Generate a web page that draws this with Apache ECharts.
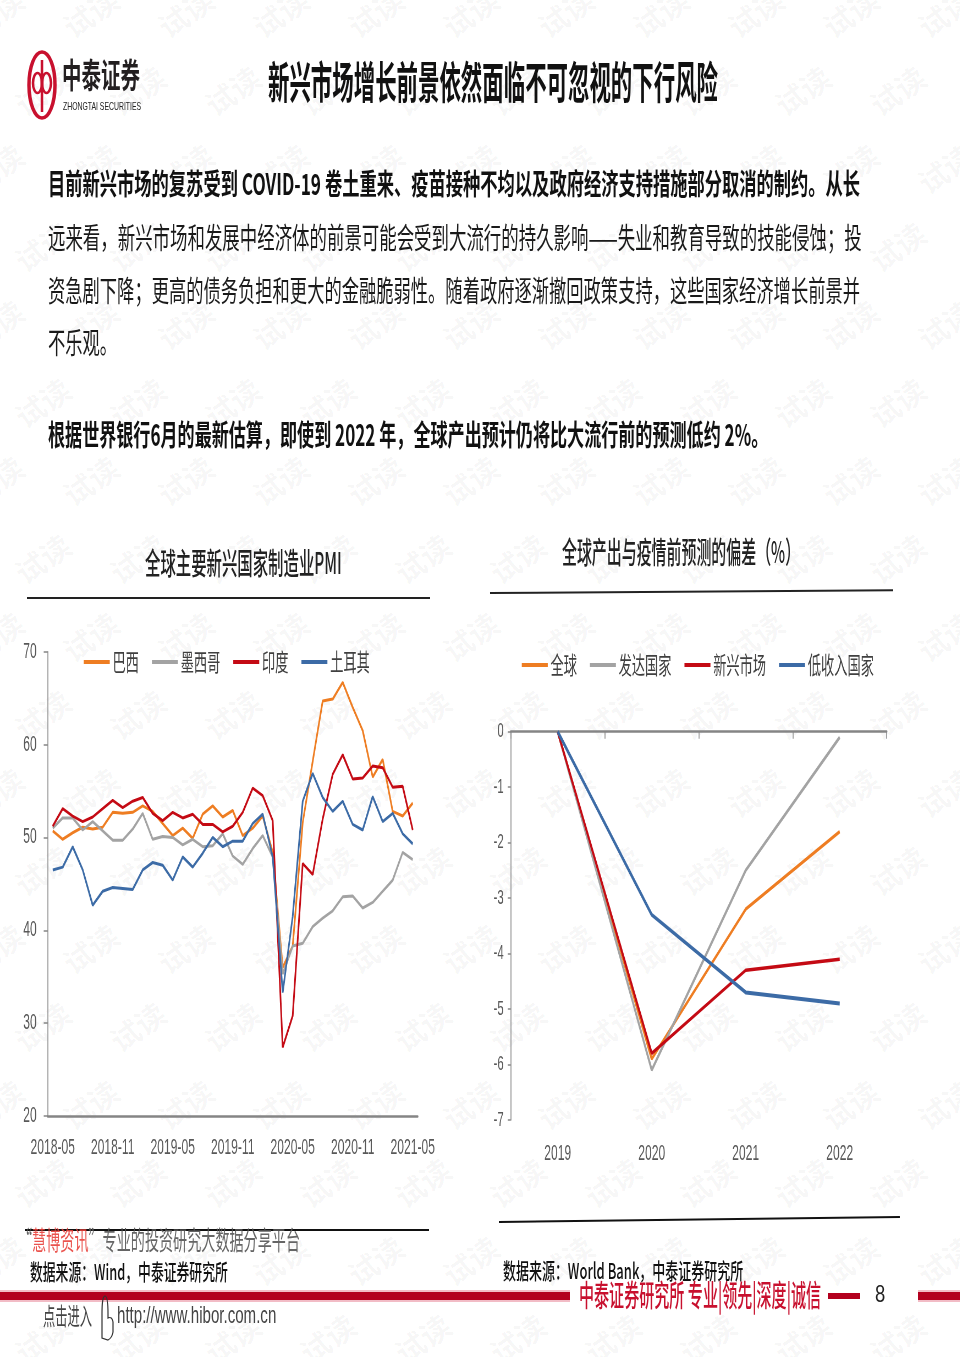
<!DOCTYPE html>
<html>
<head>
<meta charset="utf-8">
<script src="https://cdn.jsdelivr.net/npm/echarts@6/dist/echarts.min.js"></script>
<style>
  html, body { margin: 0; padding: 0; background: #fff; }
  #page { position: relative; width: 960px; height: 1357px; overflow: hidden; background: #fff; }
  .t { position: absolute; white-space: nowrap; line-height: 1; transform-origin: 0 50%;
       font-family: 'Noto Sans CJK SC', sans-serif; z-index: 5; }
  .ln { position: absolute; z-index: 4; }
  .wm { position: absolute; white-space: nowrap; font-family: 'Noto Sans CJK SC', sans-serif;
        font-weight: 700; font-size: 30px; color: rgba(0,0,0,0.04); transform: rotate(-35deg); z-index: 1; }
  #chart { position: absolute; left: 0; top: 0; transform-origin: 0 0; z-index: 3; }
</style>
</head>
<body>
<div id="page">
  <svg class="ln" style="left:25px;top:48px" width="36" height="76" viewBox="0 0 36 76">
    <ellipse cx="17" cy="37" rx="13" ry="33" fill="none" stroke="#C8102E" stroke-width="3.5"/>
    <line x1="17" y1="12" x2="17" y2="64" stroke="#C8102E" stroke-width="2.5"/>
    <ellipse cx="12.5" cy="35" rx="4.5" ry="10" fill="none" stroke="#C8102E" stroke-width="2.5"/>
    <ellipse cx="21.5" cy="35" rx="4.5" ry="10" fill="none" stroke="#C8102E" stroke-width="2.5"/>
  </svg>
  <div id="chart"></div>
</div>
<script>
// ---------------- data ----------------
const months = ["2018-05","2018-06","2018-07","2018-08","2018-09","2018-10","2018-11","2018-12",
  "2019-01","2019-02","2019-03","2019-04","2019-05","2019-06","2019-07","2019-08","2019-09","2019-10","2019-11","2019-12",
  "2020-01","2020-02","2020-03","2020-04","2020-05","2020-06","2020-07","2020-08","2020-09","2020-10","2020-11","2020-12",
  "2021-01","2021-02","2021-03","2021-04","2021-05"];
const brazil = [50.7,49.8,50.5,51.1,50.9,51.1,52.7,52.6,
  52.7,53.4,52.8,51.5,50.2,51.0,49.9,52.5,53.4,52.2,52.9,50.2,
  51.0,52.3,48.4,36.0,38.3,51.6,58.2,64.7,64.9,66.7,64.0,61.5,
  56.5,58.4,52.8,52.3,53.7];
const mexico = [51.0,52.1,52.1,50.8,51.7,50.7,49.7,49.7,
  50.9,52.6,49.8,50.1,50.0,49.2,49.8,49.0,49.1,50.4,48.0,47.1,
  48.8,50.2,47.9,35.3,38.3,38.6,40.4,41.3,42.1,43.6,43.7,42.4,
  43.0,44.2,45.4,48.4,47.6];
const india = [51.2,53.1,52.3,51.7,52.2,53.1,54.0,53.2,
  53.9,54.3,52.6,51.8,52.7,52.1,52.5,51.4,51.4,50.6,51.2,52.7,
  55.3,54.5,51.8,27.4,30.8,47.2,46.0,52.0,56.8,58.9,56.3,56.4,
  57.7,57.5,55.4,55.5,50.8];
const turkey = [46.5,46.8,49.0,46.5,42.7,44.2,44.6,44.5,
  44.4,46.5,47.3,47.0,45.4,47.9,46.8,48.3,50.0,49.0,49.6,49.6,
  51.5,52.5,47.9,33.3,41.5,53.9,56.9,54.3,52.8,53.9,51.4,50.8,
  54.4,51.7,52.6,50.4,49.3];
const pmiNames = ["巴西","墨西哥","印度","土耳其"];

const years = ["2019","2020","2021","2022"];
const globalDev = [0,-5.9,-3.2,-1.8];
const advancedDev = [0,-6.1,-2.5,-0.1];
const emergingDev = [0,-5.8,-4.3,-4.1];
const lowIncomeDev = [0,-3.3,-4.7,-4.9];
const devNames = ["全球","发达国家","新兴市场","低收入国家"];

// ---------------- page text ----------------
const page = document.getElementById('page');
function txt(html, left, cy, fs, width, style) {
  const el = document.createElement('div');
  el.className = 't';
  el.innerHTML = html;
  el.style.left = left + 'px';
  el.style.fontSize = fs + 'px';
  el.style.top = (cy - fs * 0.556) + 'px';
  Object.assign(el.style, style || {});
  page.appendChild(el);
  el._w = width;
  return el;
}
function line(left, top, w, h, color, rot) {
  const el = document.createElement('div');
  el.className = 'ln';
  Object.assign(el.style, {left: left+'px', top: top+'px', width: w+'px', height: h+'px', background: color});
  if (rot) { el.style.transform = 'rotate(' + rot + 'deg)'; el.style.transformOrigin = '0 50%'; }
  page.appendChild(el);
}
// watermark lattice
for (let r = 0; r < 19; r++) {
  for (let c = -1; c < 11; c++) {
    const w = document.createElement('div');
    w.className = 'wm';
    w.textContent = '试读';
    w.style.left = (c * 95 + (r % 2) * 47 + 60) + 'px';
    w.style.top = (r * 78 - 10) + 'px';
    page.appendChild(w);
  }
}

const texts = [];
texts.push(txt('中泰证券', 62, 76, 34, 78, {fontWeight: 700, color: '#231F20'}));
texts.push(txt('ZHONGTAI SECURITIES', 63, 107, 11, 78, {fontFamily: "'Liberation Sans', sans-serif", color: '#222'}));
texts.push(txt('新兴市场增长前景依然面临不可忽视的下行风险', 268, 82, 44, 450, {fontWeight: 700, color: '#111'}));
texts.push(txt('目前新兴市场的复苏受到 COVID-19 卷土重来、疫苗接种不均以及政府经济支持措施部分取消的制约。从长', 48, 184, 29, 812, {fontWeight: 700, color: '#111'}));
texts.push(txt('远来看，新兴市场和发展中经济体的前景可能会受到大流行的持久影响——失业和教育导致的技能侵蚀；投', 48, 238, 29, 814, {fontWeight: 400, color: '#1a1a1a'}));
const l3 = txt('资急剧下降；更高的债务负担和更大的金融脆弱性。随着政府逐渐撤回政策支持，这些国家经济增长前景并', 48, 291, 29, 812, {fontWeight: 400, color: '#1a1a1a'});
texts.push(l3);
const l4 = txt('不乐观。', 48, 343, 29, null, {fontWeight: 400, color: '#1a1a1a'});
texts.push(txt('根据世界银行6月的最新估算，即使到 2022 年，全球产出预计仍将比大流行前的预测低约 2%。', 48, 435, 29, 720, {fontWeight: 700, color: '#111'}));
texts.push(txt('全球主要新兴国家制造业PMI', 145, 563, 30, 197, {fontWeight: 500, color: '#222'}));
texts.push(txt('全球产出与疫情前预测的偏差（%）', 562, 552, 30, 238, {fontWeight: 500, color: '#222'}));
texts.push(txt('数据来源：Wind，中泰证券研究所', 30, 1271, 22, 198, {fontWeight: 500, color: '#111'}));
texts.push(txt('数据来源：World Bank，中泰证券研究所', 503, 1270, 22, 240, {fontWeight: 500, color: '#111'}));
texts.push(txt('<span style="color:#555">“</span><span style="color:#E8413B">慧博资讯</span><span style="color:#555">”专业的投资研究大数据分享平台</span>', 18, 1240, 26, 282, {fontWeight: 400, opacity: 0.9, zIndex: 6}));
texts.push(txt('点击进入', 43, 1316, 24, 49, {color: '#444', zIndex: 6}));
texts.push(txt('http://www.hibor.com.cn', 117, 1316, 24, 159, {fontFamily: "'Liberation Sans Narrow','Liberation Sans',sans-serif", color: '#444', zIndex: 6}));
texts.push(txt('中泰证券研究所 专业|领先|深度|诚信', 579, 1295, 30, 242, {fontWeight: 500, color: '#C8102E'}));
texts.push(txt('8', 875, 1295, 24, 10, {fontFamily: "'Liberation Sans', sans-serif", color: '#222'}));

// lines
line(27, 597, 403, 2, '#222');
line(490, 592, 403, 2, '#222', -0.4);
line(25, 1229, 404, 2, '#111');
line(499, 1221, 401, 2, '#111', -0.7);
line(0, 1290, 570, 2, '#F2BCC6');
line(0, 1292, 570, 8, '#B3001E');
line(0, 1300, 570, 2, '#F2BCC6');
line(828, 1293, 32, 6, '#B3001E');
line(918, 1290, 42, 2, '#F2BCC6');
line(918, 1292, 42, 8, '#B3001E');
line(918, 1300, 42, 2, '#F2BCC6');

// hand cursor icon
const hand = document.createElementNS('http://www.w3.org/2000/svg', 'svg');
hand.setAttribute('width', '20'); hand.setAttribute('height', '50');
hand.setAttribute('class', 'ln');
hand.style.left = '95px'; hand.style.top = '1292px'; hand.style.zIndex = 6;
hand.innerHTML = '<path d="M7 46 L7 22 Q7 4 10 4 Q13 4 13 22 L13 26 Q17 24 18 30 L18 40 Q17 46 13 48 Z" fill="none" stroke="#333" stroke-width="1.2"/>';
page.appendChild(hand);

function fitAll() {
  texts.forEach(el => {
    if (el._w) {
      const w = el.offsetWidth;
      if (w > 0) el.style.transform = 'scaleX(' + (el._w / w) + ')';
    }
  });
  const w3 = l3.offsetWidth;
  if (w3 > 0) l4.style.transform = 'scaleX(' + (l3._w / w3) + ')';
}
fitAll();
if (document.fonts && document.fonts.ready) document.fonts.ready.then(fitAll);

// ---------------- charts ----------------
const S = 0.55;                 // horizontal compression of the chart drawing
const X = v => v / S;           // page px -> chart container px (horizontal)
const chartDom = document.getElementById('chart');
chartDom.style.width = X(960) + 'px';
chartDom.style.height = '1357px';
chartDom.style.transform = 'scaleX(' + S + ')';

const axisFont = "'Liberation Sans Narrow','Arial Narrow','Liberation Sans',Arial,sans-serif";
const cjk = "'Noto Sans CJK SC',sans-serif";
const C = {orange: '#EE7D22', gray: '#A3A3A3', red: '#C40A14', blue: '#3C6BA6'};
const axisGray = '#858585';

function lineSeries(name, data, color, xi, yi, width) {
  return {
    name: name, type: 'line', data: data, xAxisIndex: xi, yAxisIndex: yi,
    showSymbol: false, symbol: 'none', smooth: false,
    lineStyle: {color: color, width: width}, itemStyle: {color: color},
    emphasis: {disabled: true}
  };
}

const chart = echarts.init(chartDom, null, {renderer: 'canvas', width: X(960), height: 1357});
chart.setOption({
  animation: false,
  backgroundColor: 'transparent',
  grid: [
    {left: X(47.7), top: 651.7, width: X(370), height: 464.3},
    {left: X(510.7), top: 731.7, width: X(376), height: 388.3}
  ],
  legend: [
    {left: X(81), top: 645, icon: 'rect', itemWidth: X(26), itemHeight: 4, itemGap: X(13),
     selectedMode: false, data: pmiNames,
     textStyle: {fontSize: 24, color: '#404040', fontFamily: cjk}},
    {left: X(519), top: 648, icon: 'rect', itemWidth: X(26), itemHeight: 4, itemGap: X(13),
     selectedMode: false, data: devNames,
     textStyle: {fontSize: 24, color: '#404040', fontFamily: cjk}}
  ],
  xAxis: [
    {gridIndex: 0, type: 'category', data: months, boundaryGap: true,
     axisLine: {lineStyle: {color: axisGray, width: 2.5}},
     axisTick: {interval: 5, length: 8, lineStyle: {color: axisGray, width: 1.5}},
     axisLabel: {interval: 5, margin: 21, fontSize: 22, color: '#595959', fontFamily: axisFont},
     splitLine: {show: false}},
    {gridIndex: 1, type: 'category', data: years, boundaryGap: true, position: 'bottom',
     axisLine: {show: false, onZero: false}, axisTick: {show: false},
     axisLabel: {margin: 23, fontSize: 22, color: '#595959', fontFamily: axisFont},
     splitLine: {show: false}},
    {gridIndex: 1, type: 'category', data: years, boundaryGap: true, position: 'top',
     axisLine: {show: true, onZero: false, lineStyle: {color: axisGray, width: 2.5}},
     axisTick: {show: true, inside: true, length: 7, lineStyle: {color: axisGray, width: 1.5}},
     axisLabel: {show: false}, splitLine: {show: false}}
  ],
  yAxis: [
    {gridIndex: 0, type: 'value', min: 20, max: 70, interval: 10,
     axisLine: {show: true, lineStyle: {color: axisGray, width: 1.5}},
     axisTick: {show: true, length: X(4), lineStyle: {color: axisGray, width: 1.5}},
     axisLabel: {margin: X(11), fontSize: 22, color: '#595959', fontFamily: axisFont},
     splitLine: {show: false}},
    {gridIndex: 1, type: 'value', min: -7, max: 0, interval: 1,
     axisLine: {show: true, lineStyle: {color: axisGray, width: 1.5}},
     axisTick: {show: true, length: X(3), lineStyle: {color: axisGray, width: 1.5}},
     axisLabel: {margin: X(7), fontSize: 21, color: '#595959', fontFamily: axisFont},
     splitLine: {show: false}}
  ],
  series: [
    lineSeries(pmiNames[0], brazil, C.orange, 0, 0, 3),
    lineSeries(pmiNames[1], mexico, C.gray, 0, 0, 3),
    lineSeries(pmiNames[2], india, C.red, 0, 0, 3),
    lineSeries(pmiNames[3], turkey, C.blue, 0, 0, 3),
    lineSeries(devNames[0], globalDev, C.orange, 1, 1, 3.5),
    lineSeries(devNames[1], advancedDev, C.gray, 1, 1, 3.5),
    lineSeries(devNames[2], emergingDev, C.red, 1, 1, 3.5),
    lineSeries(devNames[3], lowIncomeDev, C.blue, 1, 1, 4)
  ]
});
</script>
</body>
</html>
